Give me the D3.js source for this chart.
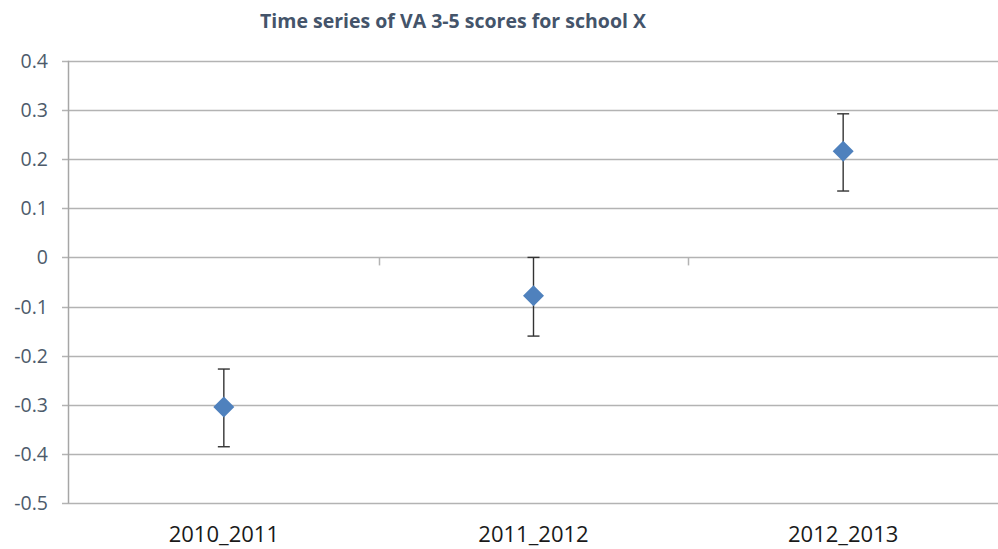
<!DOCTYPE html>
<html><head><meta charset="utf-8">
<script src="https://cdn.jsdelivr.net/npm/d3@7"></script>
<style>body{margin:0;background:#fff}svg{display:block}</style>
</head><body>
<script>
const categories = ["2010_2011", "2011_2012", "2012_2013"];
const values = [-0.304, -0.078, 0.216];
const errLow = [-0.385, -0.160, 0.135];
const errHigh = [-0.227, 0.000, 0.292];
const yTicks = [0.4, 0.3, 0.2, 0.1, 0, -0.1, -0.2, -0.3, -0.4, -0.5];
const title = "Time series of VA 3-5 scores for school X";

const W = 998, H = 549;
const svg = d3.select("body").append("svg").attr("width", W).attr("height", H);
const x = d3.scaleBand().domain(categories).range([69, 998]);
const y = d3.scaleLinear().domain([-0.5, 0.4]).range([503.3, 60.7]);

// gridlines
svg.append("g").selectAll("line").data(yTicks).join("line")
  .attr("x1", 62).attr("x2", 998)
  .attr("y1", d => Math.round(y(d)) + 0.5).attr("y2", d => Math.round(y(d)) + 0.5)
  .attr("stroke", "#b3b3b3").attr("stroke-width", 1.5);

// y axis line
svg.append("line").attr("x1", 68.5).attr("x2", 68.5).attr("y1", y(0.4)).attr("y2", y(-0.5))
  .attr("stroke", "#a6a6a6").attr("stroke-width", 1.5);

// y labels
svg.append("g").selectAll("text").data(yTicks).join("text")
  .attr("x", 48).attr("y", d => y(d) + 7)
  .attr("text-anchor", "end")
  .attr("font-family", "Open Sans").attr("font-size", 19.5)
  .attr("fill", "#4d5b6b")
  .text(d => d === 0 ? "0" : d3.format(".1f")(d).replace("−", "-"));

// x axis ticks on zero line
const xTickPos = categories.slice(1).map(c => x(c));
svg.append("g").selectAll("line").data(xTickPos).join("line")
  .attr("x1", d => Math.round(d) + 0.5).attr("x2", d => Math.round(d) + 0.5)
  .attr("y1", y(0)).attr("y2", y(0) + 8)
  .attr("stroke", "#b3b3b3").attr("stroke-width", 1.5);

// x labels
svg.append("g").selectAll("text").data(categories).join("text")
  .attr("x", d => x(d) + x.bandwidth() / 2).attr("y", 542)
  .attr("text-anchor", "middle")
  .attr("font-family", "Open Sans").attr("font-size", 22)
  .attr("fill", "#1a1a1a")
  .text(d => d);

// error bars
const eb = svg.append("g").attr("stroke", "#333").attr("stroke-width", 1.4);
categories.forEach((c, i) => {
  const cx = x(c) + x.bandwidth() / 2;
  eb.append("line").attr("x1", cx).attr("x2", cx).attr("y1", y(errHigh[i])).attr("y2", y(errLow[i]));
  eb.append("line").attr("x1", cx - 6).attr("x2", cx + 6).attr("y1", y(errHigh[i])).attr("y2", y(errHigh[i]));
  eb.append("line").attr("x1", cx - 6).attr("x2", cx + 6).attr("y1", y(errLow[i])).attr("y2", y(errLow[i]));
});

// diamonds
const r = 10.5;
svg.append("g").selectAll("path").data(categories).join("path")
  .attr("d", (c, i) => {
    const cx = x(c) + x.bandwidth() / 2, cy = y(values[i]);
    return `M${cx},${cy - r}L${cx + r},${cy}L${cx},${cy + r}L${cx - r},${cy}Z`;
  })
  .attr("fill", "#4f81bd");

// title
svg.append("text").attr("x", 453).attr("y", 28)
  .attr("text-anchor", "middle")
  .attr("font-family", "Open Sans").attr("font-weight", "bold").attr("font-size", 19.5)
  .attr("fill", "#44546a")
  .text(title);
</script>
</body></html>
